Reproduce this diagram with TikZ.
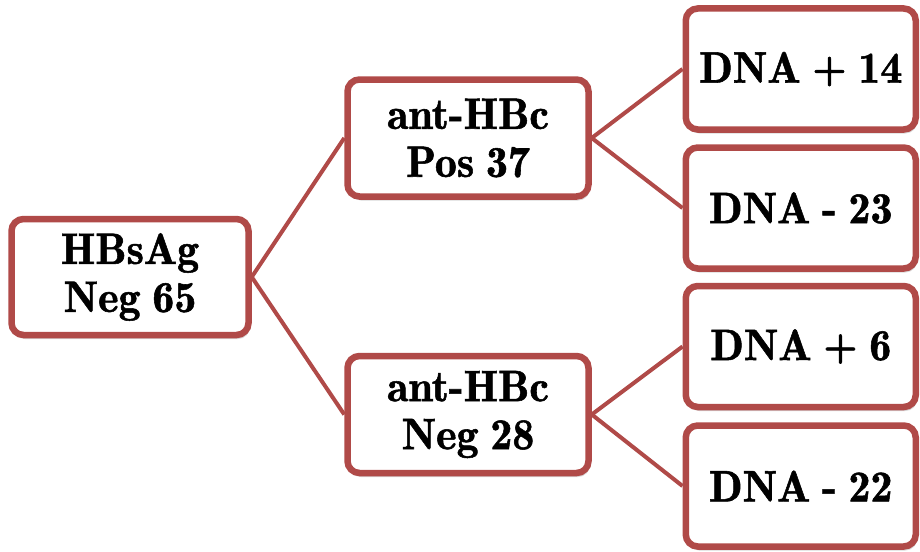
\documentclass[tikz,border=0pt]{standalone}
\usepackage{fontspec}
\newfontfamily\boxfont{lmromandemi10-regular}[Extension=.otf, FakeBold=1.2, WordSpace=0.8]
\usetikzlibrary{shadows,backgrounds}
\definecolor{boxred}{RGB}{176,74,72}
\begin{document}
\begin{tikzpicture}[x=1pt,y=-1pt,
  box/.style={draw=boxred, line width=6.5pt, fill=white, rounded corners=12pt,
    inner sep=0pt, align=center, font=\boxfont\fontsize{44}{48}\selectfont,
    drop shadow={opacity=0.3, shadow xshift=1.5pt, shadow yshift=-4pt}},
  root/.style={box, minimum width=237pt, minimum height=116pt},
  mid/.style={box, minimum width=241pt, minimum height=117pt},
  leaf/.style={box, minimum width=230pt, minimum height=121pt},
  link/.style={draw=boxred, line width=4pt}]
\useasboundingbox (0,0) rectangle (920,551);
\node[root] (a) at (130,277) {HBsAg\\Neg 65};
\node[mid] (b) at (468,138) {ant-HBc\\Pos 37};
\node[mid] (c) at (468,414.5) {ant-HBc\\Neg 28};
\node[leaf] (d1) at (800.75,69) {DNA + 14};
\node[leaf] (d2) at (800.75,208) {DNA - 23};
\node[leaf] (d3) at (800.75,346.5) {DNA + 6};
\node[leaf] (d4) at (800.75,486) {DNA - 22};
\begin{scope}[on background layer]
\draw[link] (a.east) -- (b.west);
\draw[link] (a.east) -- (c.west);
\draw[link] (b.east) -- (d1.west);
\draw[link] (b.east) -- (d2.west);
\draw[link] (c.east) -- (d3.west);
\draw[link] (c.east) -- (d4.west);
\end{scope}
\end{tikzpicture}
\end{document}
